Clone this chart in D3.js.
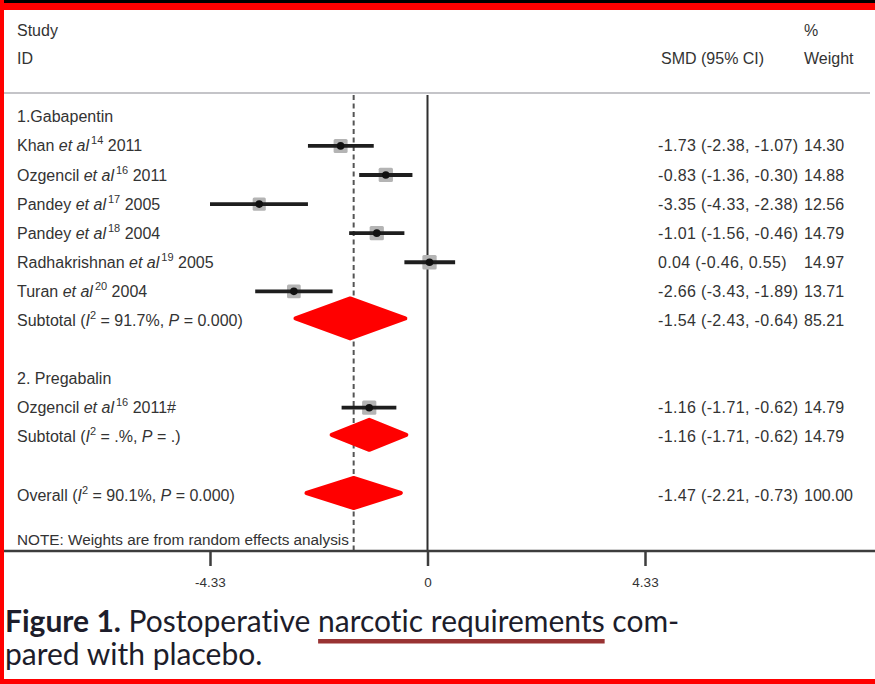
<!DOCTYPE html>
<html>
<head>
<meta charset="utf-8">
<script src="https://cdn.jsdelivr.net/npm/d3@7/dist/d3.min.js"></script>
<style>
  html, body { margin: 0; padding: 0; background: #fff; }
  svg { display: block; }
  .caption text { font-variant-ligatures: none; font-feature-settings: "liga" 0, "clig" 0; }
</style>
</head>
<body>
<svg id="chart" width="875" height="684"></svg>
<script>
// ---- Study-level data (standardised mean difference, 95% CI, % weight) ----
const studyNames   = ["Khan", "Ozgencil", "Pandey", "Pandey", "Radhakrishnan", "Turan", "Ozgencil"];
const studyRefs    = ["14", "16", "17", "18", "19", "20", "16"];
const studyYears   = ["2011", "2011", "2005", "2004", "2005", "2004", "2011#"];
const studyGroup   = [0, 0, 0, 0, 0, 0, 1];
const studySMD     = [-1.73, -0.83, -3.35, -1.01, 0.04, -2.66, -1.16];
const studyLower   = [-2.38, -1.36, -4.33, -1.56, -0.46, -3.43, -1.71];
const studyUpper   = [-1.07, -0.30, -2.38, -0.46, 0.55, -1.89, -0.62];
const studyWeights = [14.30, 14.88, 12.56, 14.79, 14.97, 13.71, 14.79];

// ---- Drug groups and pooled estimates ----
const groupNames   = ["1.Gabapentin", "2. Pregabalin"];
const subtotalI2   = ["91.7%", ".%"];
const subtotalP    = ["0.000", "."];
const subtotalSMD  = [-1.54, -1.16];
const subtotalLow  = [-2.43, -1.71];
const subtotalUpp  = [-0.64, -0.62];
const subtotalW    = [85.21, 14.79];

const overallI2  = "90.1%";
const overallP   = "0.000";
const overallSMD = -1.47;
const overallLow = -2.21;
const overallUpp = -0.73;
const overallW   = 100.00;

// ---- Axis ----
const tickValues = [-4.33, 0, 4.33];
const tickLabels = ["-4.33", "0", "4.33"];

// ---- Caption ----
const captionBold = "Figure 1.";
const captionPre  = " Postoperative ";
const captionKey  = "narcotic requirements";
const captionPost = " com-";
const captionLine2 = "pared with placebo.";

// plain ASCII hyphen for negatives, as in the printed table
const locale = d3.formatLocale({ decimal: ".", thousands: ",", grouping: [3], currency: ["", ""], minus: "-" });
const f2 = locale.format(".2f");
const ciText = (e, l, u) => `${f2(e)} (${f2(l)}, ${f2(u)})`;

// Build the row sequence of the forest plot
const rows = [];
groupNames.forEach((g, gi) => {
  rows.push({ type: "group", label: g });
  studyNames.forEach((n, i) => {
    if (studyGroup[i] === gi) rows.push({ type: "study", i });
  });
  rows.push({ type: "subtotal", gi });
  rows.push({ type: "blank" });
});
rows.push({ type: "overall" });

const svg = d3.select("#chart");
const W = 875, H = 684;
const FONT = "'Liberation Sans', Arial, Helvetica, sans-serif";
const TXT = "#333333";

svg.append("rect").attr("width", W).attr("height", H).attr("fill", "#fff");

// Scales
const x = d3.scaleLinear().domain([-4.33, 4.33]).range([210, 645]);
const y = d3.scaleLinear().domain([0, 13]).range([116.8, 495]);
const axisY = 551;
const plotTop = 95;

// Header
const hdr = svg.append("g").attr("font-family", FONT).attr("font-size", 16).attr("fill", TXT);
hdr.append("text").attr("x", 17).attr("y", 36).text("Study");
hdr.append("text").attr("x", 17).attr("y", 64).text("ID");
hdr.append("text").attr("x", 661).attr("y", 64).text("SMD (95% CI)");
hdr.append("text").attr("x", 804).attr("y", 36).text("%");
hdr.append("text").attr("x", 804).attr("y", 64).text("Weight");

// Header separator
svg.append("line").attr("x1", 3).attr("x2", 870).attr("y1", 93).attr("y2", 93)
  .attr("stroke", "#c4c4c8").attr("stroke-width", 2);

// Reference lines: no effect (solid) and overall estimate (dashed)
svg.append("line").attr("x1", x(0)).attr("x2", x(0)).attr("y1", plotTop).attr("y2", axisY)
  .attr("stroke", "#2f2f2f").attr("stroke-width", 2);
svg.append("line").attr("x1", x(overallSMD)).attr("x2", x(overallSMD)).attr("y1", plotTop).attr("y2", axisY)
  .attr("stroke", "#555").attr("stroke-width", 2).attr("stroke-dasharray", "5,3.5");

// Axis
svg.append("line").attr("x1", 3).attr("x2", W).attr("y1", axisY).attr("y2", axisY)
  .attr("stroke", "#3d3d3d").attr("stroke-width", 2.5);
const axis = d3.axisBottom(x).tickValues(tickValues)
  .tickFormat((d, i) => tickLabels[i]).tickSize(15).tickPadding(11);
const ax = svg.append("g").attr("transform", `translate(0,${axisY})`).call(axis);
ax.select(".domain").remove();
ax.selectAll(".tick line").attr("stroke", "#3d3d3d").attr("stroke-width", 2.5);
ax.selectAll(".tick text").attr("font-family", FONT).attr("font-size", 13.5).attr("fill", TXT);

// Row content
const body = svg.append("g").attr("font-family", FONT).attr("font-size", 16).attr("fill", TXT);
const boxK = 3.7;
const diamondHalfH = { subtotal: [20, 15], overall: 15 };
const diamondPad = 10;

function labelWithSup(t, pre, it, sup, post) {
  t.append("tspan").text(pre);
  t.append("tspan").attr("font-style", "italic").text(it);
  t.append("tspan").attr("font-size", 11).attr("dy", -7).attr("dx", 2).text(sup);
  t.append("tspan").attr("dy", 7).text(post);
}
function statLabel(t, pre, i2, p) {
  t.append("tspan").text(pre + " (");
  t.append("tspan").attr("font-style", "italic").text("I");
  t.append("tspan").attr("font-size", 11).attr("dy", -7).text("2");
  t.append("tspan").attr("dy", 7).text(` = ${i2}, `);
  t.append("tspan").attr("font-style", "italic").text("P");
  t.append("tspan").text(` = ${p})`);
}
function diamond(cy, est, lo, hi, hh) {
  const pts = [[x(lo) - diamondPad, cy], [x(est), cy - hh], [x(hi) + diamondPad, cy], [x(est), cy + hh]];
  svg.append("polygon").attr("points", pts.map(p => p.join(",")).join(" "))
    .attr("fill", "#ff0000").attr("stroke", "#ff0000").attr("stroke-width", 4)
    .attr("stroke-linejoin", "round");
}
function esCols(cy, e, l, u, w) {
  body.append("text").attr("x", 658).attr("y", cy).attr("dy", "0.35em")
    .attr("letter-spacing", 0.35).text(ciText(e, l, u));
  body.append("text").attr("x", 804).attr("y", cy).attr("dy", "0.35em").text(f2(w));
}

rows.forEach((r, ri) => {
  const cy = y(ri);
  if (r.type === "group") {
    body.append("text").attr("x", 17).attr("y", cy).attr("dy", "0.35em").text(r.label);
  } else if (r.type === "study") {
    const i = r.i;
    const t = body.append("text").attr("x", 17).attr("y", cy).attr("dy", "0.35em");
    labelWithSup(t, studyNames[i] + " ", "et al", studyRefs[i], " " + studyYears[i]);
    const s = boxK * Math.sqrt(studyWeights[i]);
    svg.append("rect").attr("x", x(studySMD[i]) - s / 2).attr("y", cy - s / 2)
      .attr("width", s).attr("height", s).attr("fill", "#b4b4b4").attr("rx", 1.5);
    svg.append("line").attr("x1", x(studyLower[i])).attr("x2", x(studyUpper[i]))
      .attr("y1", cy).attr("y2", cy).attr("stroke", "#1e1e1e").attr("stroke-width", 3.8);
    svg.append("circle").attr("cx", x(studySMD[i])).attr("cy", cy).attr("r", 3.8).attr("fill", "#111");
    esCols(cy, studySMD[i], studyLower[i], studyUpper[i], studyWeights[i]);
  } else if (r.type === "subtotal") {
    const g = r.gi;
    const t = body.append("text").attr("x", 17).attr("y", cy).attr("dy", "0.35em");
    statLabel(t, "Subtotal", subtotalI2[g], subtotalP[g]);
    diamond(cy - 2, subtotalSMD[g], subtotalLow[g], subtotalUpp[g], diamondHalfH.subtotal[g]);
    esCols(cy, subtotalSMD[g], subtotalLow[g], subtotalUpp[g], subtotalW[g]);
  } else if (r.type === "overall") {
    const t = body.append("text").attr("x", 17).attr("y", cy).attr("dy", "0.35em");
    statLabel(t, "Overall", overallI2, overallP);
    diamond(cy - 2, overallSMD, overallLow, overallUpp, diamondHalfH.overall);
    esCols(cy, overallSMD, overallLow, overallUpp, overallW);
  }
});

body.append("text").attr("x", 17).attr("y", y(14.55)).attr("dy", "0.35em").attr("font-size", 15.3)
  .text("NOTE: Weights are from random effects analysis");

// Caption with underlined key phrase
const CAP = "Lato, 'Open Sans', sans-serif";
const capFill = "#1d1d2b";
const capSize = 30;
const cap = svg.append("g").attr("class", "caption").attr("font-family", CAP)
  .attr("font-size", capSize).attr("fill", capFill);
let cx = 5;
const line1 = 632;
[[captionBold, "bold"], [captionPre, "normal"], [captionKey, "normal"], [captionPost, "normal"]].forEach(([s, wgt], k) => {
  const t = cap.append("text").attr("x", cx).attr("y", line1).attr("font-weight", wgt)
    .style("white-space", "pre").attr("xml:space", "preserve").text(s);
  const w = t.node().getComputedTextLength();
  if (k === 2) {
    svg.append("rect").attr("x", cx).attr("y", 639).attr("width", w).attr("height", 4.5).attr("fill", "#993333");
  }
  cx += w;
});
cap.append("text").attr("x", 5).attr("y", 665).text(captionLine2);

// Frame
svg.append("rect").attr("x", 0).attr("y", 0).attr("width", W).attr("height", 3).attr("fill", "#000");
svg.append("rect").attr("x", 0).attr("y", 3).attr("width", W).attr("height", 7).attr("fill", "#ff0000");
svg.append("rect").attr("x", 0).attr("y", 0).attr("width", 4).attr("height", H).attr("fill", "#ff0000");
svg.append("rect").attr("x", 0).attr("y", 679).attr("width", W).attr("height", 5).attr("fill", "#ff0000");
</script>
</body>
</html>
